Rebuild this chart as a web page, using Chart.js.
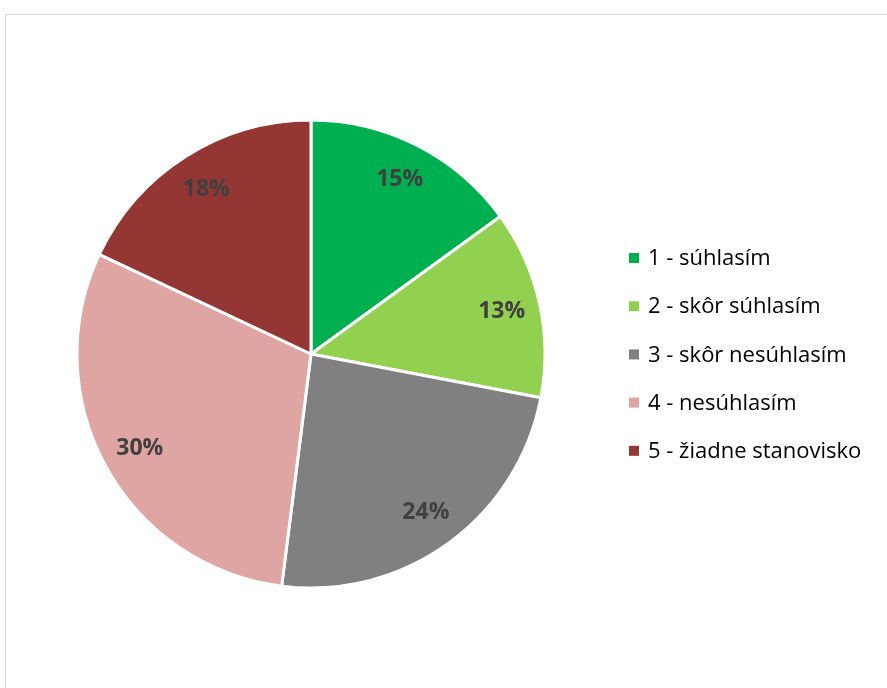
<!DOCTYPE html>
<html>
<head>
<meta charset="utf-8">
<script src="https://cdn.jsdelivr.net/npm/chart.js@4"></script>
<style>
  html, body { margin: 0; padding: 0; background: #fff; overflow: hidden; }
  #frame { position: absolute; left: 5px; top: 14px; width: 1000px; height: 1000px; border: 1px solid #d9d9d9; }
  #wrap { position: absolute; left: 0; top: 0; width: 887px; height: 688px; }
</style>
</head>
<body>
<div id="frame"></div>
<div id="wrap"><canvas id="odpovede" width="887" height="688"></canvas></div>
<script>
// odpovede respondentov (podiel v %)
var kategorie = ["1 - súhlasím", "2 - skôr súhlasím", "3 - skôr nesúhlasím", "4 - nesúhlasím", "5 - žiadne stanovisko"];
var hodnoty = [15, 13, 24, 30, 18];
var farby = ['#00B050', '#92D050', '#808080', '#DFA5A3', '#943634'];

// popisky percent v strede vysekov
var popisky = {
    id: 'popisky',
    afterDatasetsDraw: function (chart) {
        var ctx = chart.ctx;
        var meta = chart.getDatasetMeta(0);
        ctx.save();
        ctx.font = 'bold 23px "Open Sans"';
        ctx.fillStyle = '#404040';
        ctx.textAlign = 'center';
        ctx.textBaseline = 'middle';
        meta.data.forEach(function (arc, i) {
            var p = arc.getProps(['x', 'y', 'startAngle', 'endAngle', 'outerRadius'], true);
            var mid = (p.startAngle + p.endAngle) / 2;
            var r = p.outerRadius * 0.835;
            ctx.fillText(hodnoty[i] + '%', p.x + Math.cos(mid) * r, p.y + Math.sin(mid) * r);
        });
        ctx.restore();
    }
};

// legenda vpravo
var legenda = {
    id: 'legenda',
    afterDraw: function (chart) {
        var ctx = chart.ctx;
        ctx.save();
        ctx.font = '22px "Open Sans"';
        ctx.textBaseline = 'middle';
        kategorie.forEach(function (k, i) {
            var y = 258 + i * 48.2;
            ctx.fillStyle = farby[i];
            ctx.fillRect(629, y - 5, 10, 10);
            ctx.fillStyle = '#000000';
            ctx.fillText(k, 648, y + 1);
        });
        ctx.restore();
    }
};

var ctx = document.getElementById("odpovede");
var myChart = new Chart(ctx, {
    type: 'pie',
    data: {
        labels: kategorie,
        datasets: [{
            label: 'Odpovede',
            data: hodnoty,
            backgroundColor: farby,
            borderColor: '#ffffff',
            borderWidth: 3,
            hoverOffset: 0,
            radius: 234
        }]
    },
    options: {
        responsive: false,
        animation: false,
        layout: { padding: { left: 0, right: 265, top: 20, bottom: 0 } },
        plugins: {
            legend: { display: false },
            tooltip: { enabled: false }
        }
    },
    plugins: [popisky, legenda]
});
</script>
</body>
</html>
